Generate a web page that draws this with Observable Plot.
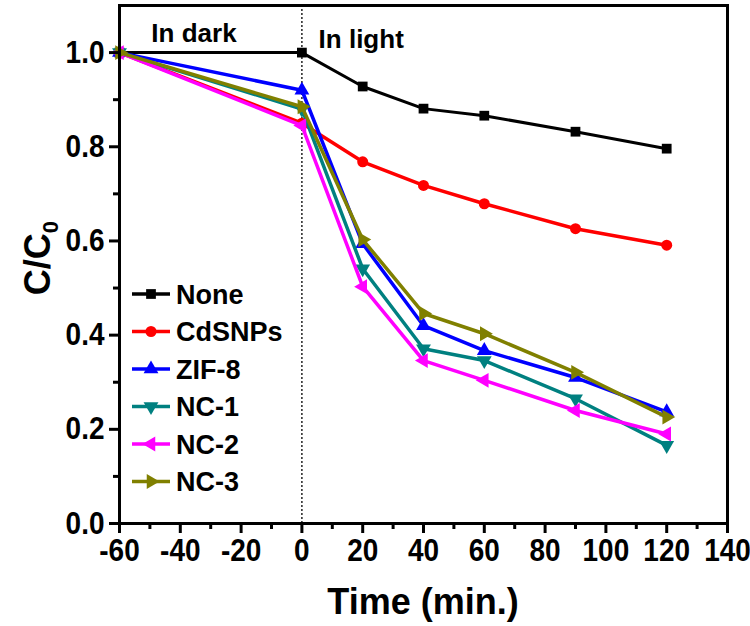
<!DOCTYPE html>
<html><head><meta charset="utf-8">
<script src="https://cdn.jsdelivr.net/npm/d3@7"></script>
<script src="https://cdn.jsdelivr.net/npm/@observablehq/plot@0.6"></script>
<style>
body{margin:0;background:#fff;}
#chart{position:relative;width:750px;height:626px;}
svg text{font-family:"Liberation Sans",Arial,sans-serif;font-weight:bold;}
</style></head><body><div id="chart"></div>
<script>
// ---- data ----
const times = [-60, 0, 20, 40, 60, 90, 120];
const seriesNames = ["None", "CdSNPs", "ZIF-8", "NC-1", "NC-2", "NC-3"];
const noneValues = [1.0, 1.0, 0.928, 0.881, 0.866, 0.832, 0.796];
const cdsValues  = [1.0, 0.85, 0.768, 0.718, 0.679, 0.626, 0.591];
const zifValues  = [1.0, 0.92, 0.594, 0.420, 0.367, 0.310, 0.237];
const nc1Values  = [1.0, 0.88, 0.541, 0.371, 0.346, 0.265, 0.166];
const nc2Values  = [1.0, 0.845, 0.503, 0.346, 0.304, 0.240, 0.190];
const nc3Values  = [1.0, 0.885, 0.603, 0.446, 0.403, 0.321, 0.226];
const seriesValues = [noneValues, cdsValues, zifValues, nc1Values, nc2Values, nc3Values];
const seriesColors = ["#000000", "#ff0000", "#0000ff", "#008080", "#ff00ff", "#808000"];
const seriesSymbols = ["square", "circle", "triangle", "triangle", "triangle", "triangle"];
const seriesRotate = [0, 0, 0, 180, -90, 90];
const xTicks = [-60, -40, -20, 0, 20, 40, 60, 80, 100, 120, 140];
const xMinorTicks = [-50, -30, -10, 10, 30, 50, 70, 90, 110, 130];
const yTicks = [0, 0.2, 0.4, 0.6, 0.8, 1.0];
const yMinorTicks = [0.1, 0.3, 0.5, 0.7, 0.9];
const dividerTime = [0];
const annotations = [
  {label: "In dark", t: -35.5, v: 1.040},
  {label: "In light", t: 19.5, v: 1.028}
];
const xTitle = "Time (min.)";

// ---- table ----
const rows = [];
seriesNames.forEach((s, i) => times.forEach((t, j) =>
  rows.push({series: s, t, v: seriesValues[i][j]})));

const seriesMarks = seriesNames.flatMap((s, i) => {
  const d = rows.filter(r => r.series === s);
  return [
    Plot.line(d, {x: "t", y: "v", stroke: seriesColors[i], strokeWidth: i === 0 ? 3 : 3.5}),
    Plot.dot(d, {x: "t", y: "v", fill: seriesColors[i], symbol: seriesSymbols[i], rotate: seriesRotate[i], r: 5.5, stroke: "none"})
  ];
});

const plot = Plot.plot({
  width: 750, height: 626,
  marginLeft: 119, marginRight: 23, marginTop: 5, marginBottom: 103,
  style: {fontFamily: "Liberation Sans, Arial, sans-serif", background: "#fff", overflow: "visible"},
  x: {domain: [-60, 140]},
  y: {domain: [0, 1.1]},
  marks: [
    Plot.ruleX(dividerTime, {stroke: "#000", strokeWidth: 1.3, strokeDasharray: "2,2"}),
    ...seriesMarks,
    Plot.axisX({ticks: xTicks, tickSize: 10, tickPadding: 5, strokeWidth: 3, fontSize: 28, fontWeight: "bold", label: null, tickFormat: d => String(d)}),
    Plot.axisX({ticks: xMinorTicks, tickSize: 6, strokeWidth: 3, tickFormat: () => "", label: null}),
    Plot.axisY({ticks: yTicks, tickSize: 10, tickPadding: 5, strokeWidth: 3, fontSize: 28, fontWeight: "bold", label: null, tickFormat: d3.format(".1f")}),
    Plot.axisY({ticks: yMinorTicks, tickSize: 6, strokeWidth: 3, tickFormat: () => "", label: null}),
    Plot.frame({stroke: "#000", strokeWidth: 3}),
    Plot.text(annotations, {x: "t", y: "v", text: "label", fontSize: 26, fontWeight: "bold", fill: "#000"})
  ]
});
document.getElementById("chart").appendChild(plot);

const svg = d3.select(plot);

// stretch tick labels vertically a little (reference text is tall and narrow)
svg.selectAll('g[aria-label="x-axis tick label"] text, g[aria-label="y-axis tick label"] text').each(function() {
  const el = this;
  let t = el.getAttribute("transform");
  if (!t) {
    const x = +(el.getAttribute("x") || 0), y = +(el.getAttribute("y") || 0);
    el.removeAttribute("x"); el.removeAttribute("y");
    t = `translate(${x},${y})`;
  }
  el.setAttribute("transform", t + " scale(1,1.12)");
});

// axis titles
svg.append("text")
  .attr("x", 423).attr("y", 614)
  .attr("text-anchor", "middle")
  .attr("font-size", 36)
  .attr("fill", "#000")
  .text(xTitle);
const yl = svg.append("text")
  .attr("transform", "translate(50,258) rotate(-90)")
  .attr("text-anchor", "middle")
  .attr("font-size", 36)
  .attr("fill", "#000");
yl.append("tspan").text("C/C");
yl.append("tspan").attr("font-size", 22).attr("dy", "0.35em").text("0");

// legend (inside plot, lower left)
const symMap = {square: d3.symbolSquare, circle: d3.symbolCircle, triangle: d3.symbolTriangle};
const lg = svg.append("g");
seriesNames.forEach((s, i) => {
  const y = 294 + i * 37.5;
  const g = lg.append("g").attr("transform", `translate(0,${y})`);
  g.append("line").attr("x1", 132).attr("x2", 170).attr("y1", 0).attr("y2", 0)
    .attr("stroke", seriesColors[i]).attr("stroke-width", 3.5);
  g.append("path")
    .attr("d", d3.symbol(symMap[seriesSymbols[i]], Math.PI * 5.5 * 5.5)())
    .attr("transform", `translate(151,0) rotate(${seriesRotate[i]})`)
    .attr("fill", seriesColors[i]);
  g.append("text").attr("x", 176).attr("y", 0).attr("dy", "0.36em")
    .attr("text-anchor", "start")
    .attr("font-size", 27).attr("fill", "#000").text(s);
});
</script>
</body></html>
